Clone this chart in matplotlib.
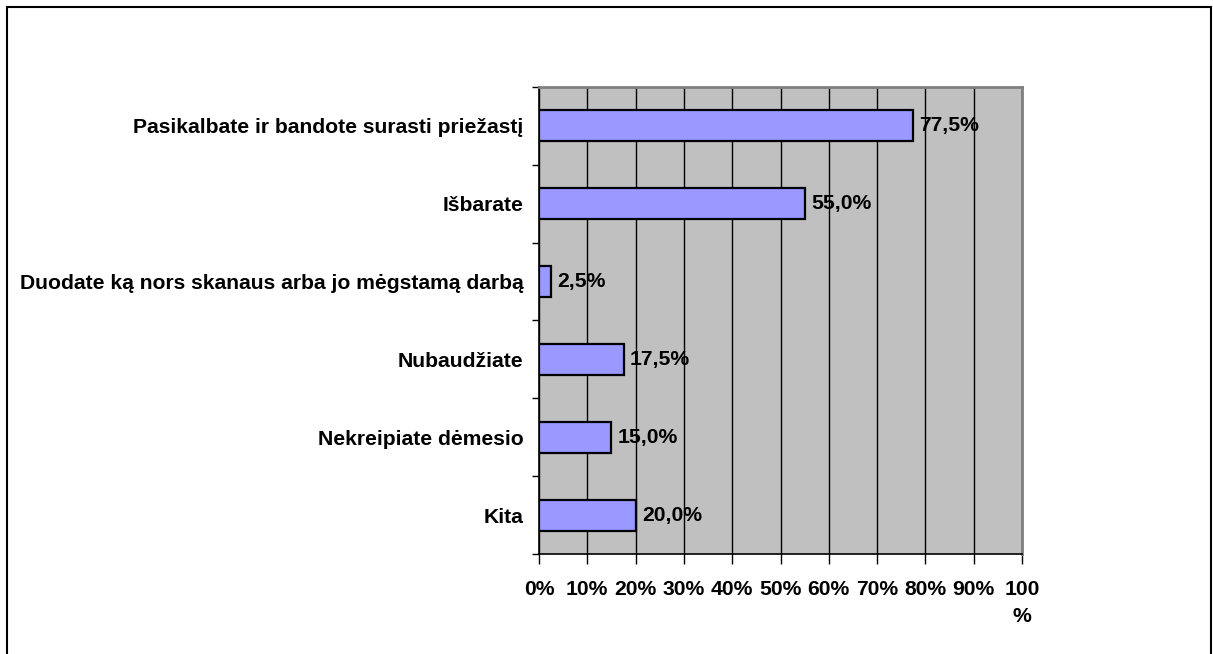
import matplotlib
matplotlib.use('Agg')
import matplotlib.pyplot as plt
from matplotlib.patches import Rectangle
from matplotlib.ticker import FixedLocator

categories = ['Pasikalbate ir bandote surasti priežastį', 'Išbarate',
              'Duodate ką nors skanaus arba jo mėgstamą darbą', 'Nubaudžiate',
              'Nekreipiate dėmesio', 'Kita']
values = [77.5, 55.0, 2.5, 17.5, 15.0, 20.0]
x_ticks = [0, 10, 20, 30, 40, 50, 60, 70, 80, 90, 100]
x_labels = ['0%', '10%', '20%', '30%', '40%', '50%', '60%', '70%', '80%', '90%', '100\n%']

plt.rcParams['font.family'] = ['Liberation Sans', 'DejaVu Sans']
plt.rcParams['font.weight'] = 'bold'
fs = 15.2

fig = plt.figure(figsize=(12.13, 6.54), dpi=100)
ax = fig.add_axes([539/1213, 1 - 554/654, (1022 - 539)/1213, (554 - 87)/654])
ax.set_facecolor('#C0C0C0')

n = len(categories)
ypos = list(range(n))
ax.barh(ypos, values, height=0.4, color='#9999FF', edgecolor='black', linewidth=1.6, zorder=3)
for y, v in zip(ypos, values):
    ax.text(v + 1.3, y, ('%.1f%%' % v).replace('.', ','), va='center', ha='left',
            fontsize=fs, fontweight='bold', zorder=4)

ax.set_xlim(0, 100)
ax.set_ylim(n - 0.5, -0.5)
ax.set_xticks(x_ticks)
ax.set_xticklabels(x_labels, fontsize=fs, fontweight='bold', linespacing=1.5)
ax.xaxis.grid(True, color='black', linewidth=1, zorder=1)
ax.tick_params(axis='x', length=7, width=1, pad=12)

# category boundaries get the ticks, names sit between them
ax.yaxis.set_major_locator(FixedLocator([i - 0.5 for i in range(n + 1)]))
ax.yaxis.set_major_formatter(plt.NullFormatter())
ax.set_yticks(ypos, minor=True)
ax.set_yticklabels(categories, minor=True, fontsize=fs, fontweight='bold')
ax.tick_params(axis='y', which='major', length=5, width=1)
ax.tick_params(axis='y', which='minor', length=0, pad=11)

ax.spines['left'].set_color('black')
ax.spines['bottom'].set_color('black')
ax.spines['left'].set_linewidth(1.2)
ax.spines['bottom'].set_linewidth(1.2)
ax.spines['top'].set_color('#808080')
ax.spines['right'].set_color('#808080')
ax.spines['top'].set_linewidth(2)
ax.spines['right'].set_linewidth(2)

fig.patches.append(Rectangle((7/1213, -0.05), (1211 - 7)/1213, 1 - 7/654 + 0.05,
                             transform=fig.transFigure, fill=False,
                             edgecolor='black', linewidth=1.5))

plt.savefig('out.png', dpi=100)
